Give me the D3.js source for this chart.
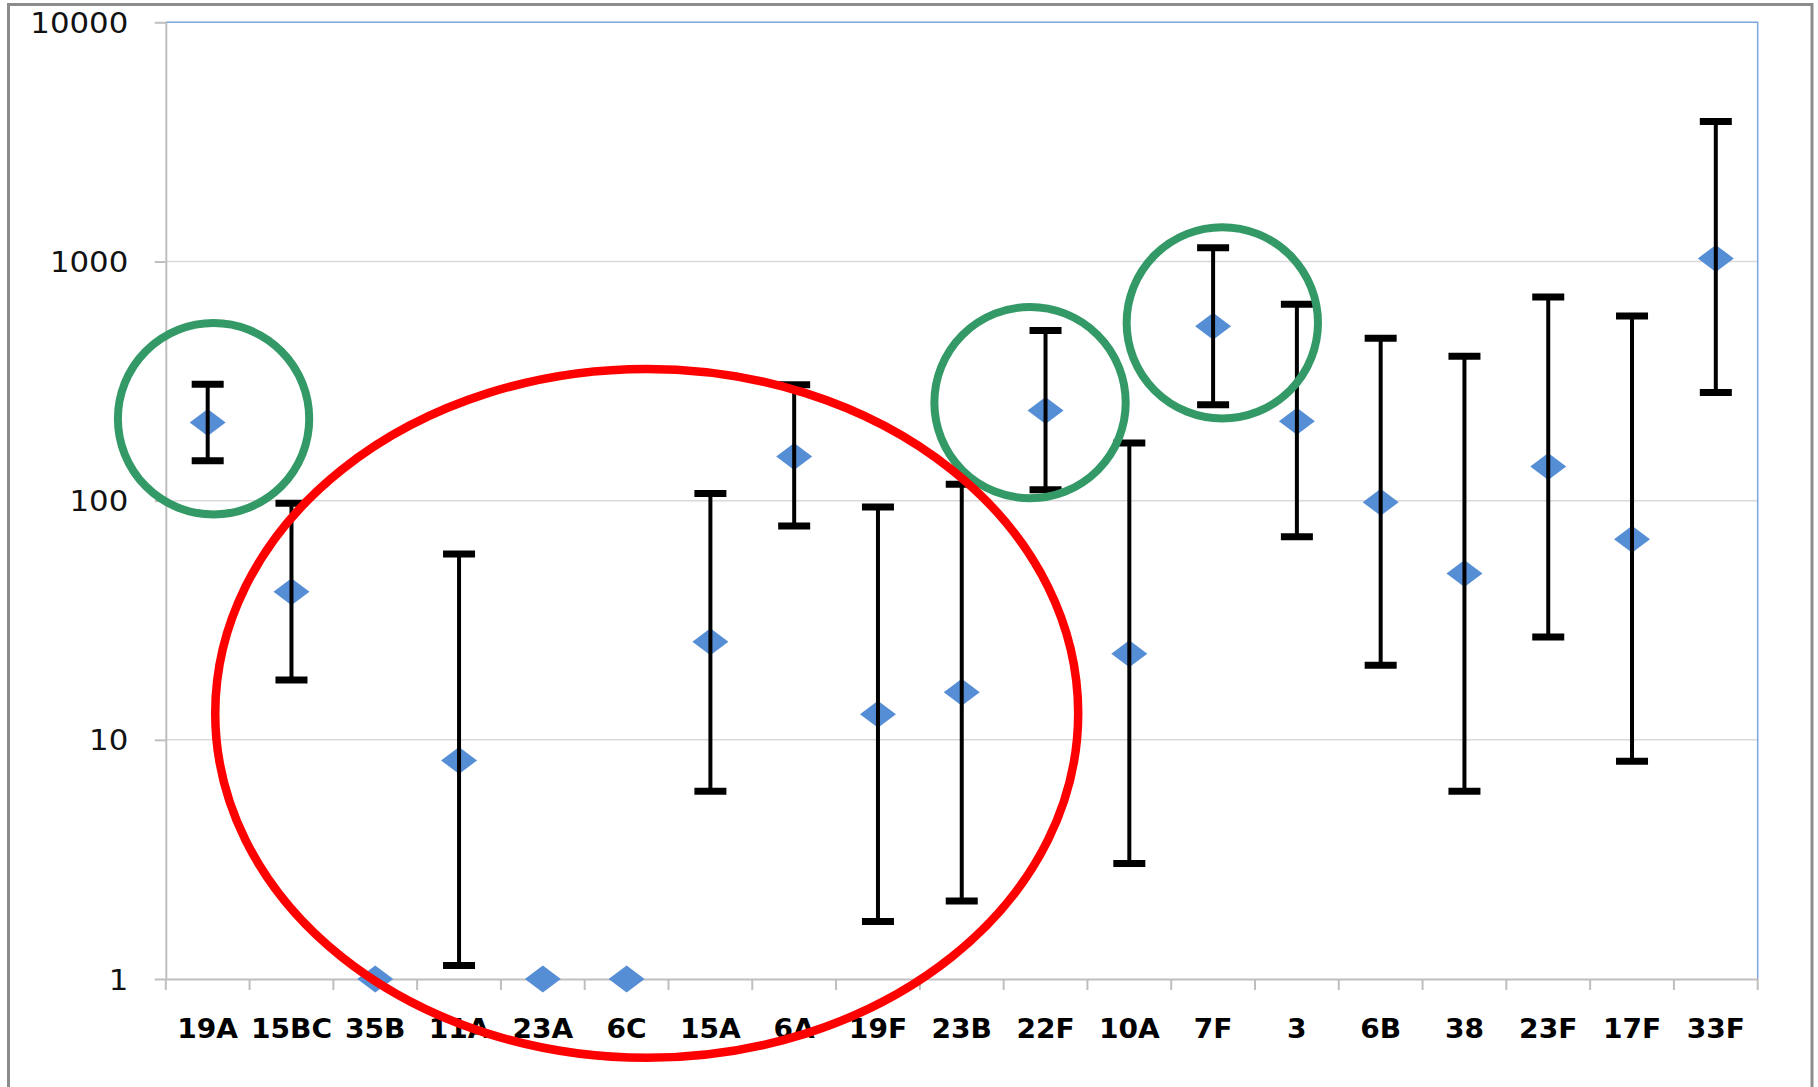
<!DOCTYPE html>
<html>
<head>
<meta charset="utf-8">
<script src="https://cdn.jsdelivr.net/npm/d3@7"></script>
<style>
  body { margin: 0; background: #fff; }
  svg { display: block; }
</style>
</head>
<body>
<svg id="chart" width="1818" height="1087"></svg>
<script>
// Serotypes along the category axis
const categories = ["19A", "15BC", "35B", "11A", "23A", "6C", "15A", "6A", "19F", "23B",
                    "22F", "10A", "7F", "3", "6B", "38", "23F", "17F", "33F"];
// Point estimate per serotype
const pointValues = [212, 41.6, 1, 8.2, 1, 1, 25.7, 153, 12.8, 15.8,
                     238, 22.9, 536, 215, 98.5, 49.6, 139, 68.9, 1030];
// Upper and lower ends of each interval (null = no interval drawn)
const upperValues = [307, 97.5, null, 59.8, null, null, 107, 305, 94, 117,
                     515, 174, 1140, 663, 478, 402, 711, 592, 3850];
const lowerValues = [147, 17.8, null, 1.14, null, null, 6.1, 78.3, 1.74, 2.12,
                     111, 3.04, 252, 70.7, 20.5, 6.1, 26.9, 8.14, 283];
// Log axis ticks
const yTickValues = [1, 10, 100, 1000, 10000];

const svg = d3.select("#chart");
const plot = { left: 165.8, top: 22.3, right: 1757.7, bottom: 979 };

const x = d3.scaleBand().domain(categories).range([plot.left, plot.right]).padding(0);
const y = d3.scaleLog().domain([1, 10000]).range([plot.bottom, plot.top]);
const bw = x.bandwidth();
const cx = c => x(c) + bw / 2;
const decade = y(1) - y(10);

svg.append("rect").attr("width", 1818).attr("height", 1087).attr("fill", "#fff");

// outer chart frame
svg.append("rect")
  .attr("x", 8.5).attr("y", 4.5)
  .attr("width", 1803.5).attr("height", 1200)
  .attr("fill", "none").attr("stroke", "#8c8c8c").attr("stroke-width", 3);

// horizontal gridlines
svg.append("g").selectAll("line")
  .data(yTickValues.filter(v => v > 1 && v < 10000))
  .join("line")
  .attr("x1", plot.left).attr("x2", plot.right)
  .attr("y1", d => y(d)).attr("y2", d => y(d))
  .attr("stroke", "#d9d9d9").attr("stroke-width", 1.5);

// plot area top and right edges
svg.append("path")
  .attr("d", `M${plot.left},${y(10000)}H${plot.right}V${y(1)}`)
  .attr("fill", "none").attr("stroke", "#7fa6dc").attr("stroke-width", 1.5);

// y axis
const yAxis = svg.append("g")
  .attr("transform", `translate(${plot.left},0)`)
  .call(d3.axisLeft(y).tickValues(yTickValues).tickFormat(d3.format("d"))
    .tickSize(11).tickSizeOuter(0));
yAxis.select(".domain").attr("stroke", "#bfbfbf").attr("stroke-width", 2);
yAxis.selectAll(".tick line").attr("stroke", "#bfbfbf").attr("stroke-width", 2);
const yStretch = 1.1;
yAxis.selectAll(".tick text")
  .attr("x", -37.5 / yStretch)
  .attr("dy", "0.36em")
  .attr("transform", `scale(${yStretch},1)`)
  .attr("fill", "#111")
  .style("font-family", "'DejaVu Sans', sans-serif")
  .style("font-size", "28px");

// x axis
const xAxis = svg.append("g")
  .attr("transform", `translate(0,${plot.bottom})`)
  .call(d3.axisBottom(x).tickSize(0).tickSizeOuter(0));
xAxis.select(".domain").attr("stroke", "#bfbfbf").attr("stroke-width", 2);
const xStretch = 1.06;
xAxis.selectAll(".tick text")
  .attr("y", 59).attr("dy", "0")
  .attr("transform", `scale(${xStretch},1)`)
  .attr("fill", "#000")
  .style("font-family", "'DejaVu Sans', sans-serif")
  .style("font-weight", "bold")
  .style("font-size", "26.5px");

// category boundary tick marks
xAxis.append("g").selectAll("line")
  .data(categories.map(c => x(c)).concat([plot.right]))
  .join("line")
  .attr("x1", d => d).attr("x2", d => d)
  .attr("y1", 0).attr("y2", 11)
  .attr("stroke", "#bfbfbf").attr("stroke-width", 2);

const rows = categories.map((c, i) => ({
  cat: c, v: pointValues[i], hi: upperValues[i], lo: lowerValues[i]
}));

// diamond markers
const mw = 18, mh = 13.5;
svg.append("g").selectAll("path")
  .data(rows)
  .join("path")
  .attr("d", d => {
    const px = cx(d.cat), py = y(d.v);
    return `M${px - mw},${py}L${px},${py - mh}L${px + mw},${py}L${px},${py + mh}Z`;
  })
  .attr("fill", "#568ed6");

// interval bars
const bars = svg.append("g").selectAll("g")
  .data(rows.filter(d => d.hi != null))
  .join("g");
bars.append("line")
  .attr("x1", d => cx(d.cat)).attr("x2", d => cx(d.cat))
  .attr("y1", d => y(d.hi)).attr("y2", d => y(d.lo))
  .attr("stroke", "#000").attr("stroke-width", 4);
["hi", "lo"].forEach(k => {
  bars.append("line")
    .attr("x1", d => cx(d.cat) - 16).attr("x2", d => cx(d.cat) + 16)
    .attr("y1", d => y(d[k])).attr("y2", d => y(d[k]))
    .attr("stroke", "#000").attr("stroke-width", 7);
});

// highlight rings
const rings = [
  { cat: "19A", shift: 0.07, value: 220 },
  { cat: "22F", shift: -0.185, value: 257 },
  { cat: "7F", shift: 0.11, value: 554 }
];
svg.append("g").selectAll("circle")
  .data(rings)
  .join("circle")
  .attr("cx", d => cx(d.cat) + d.shift * bw)
  .attr("cy", d => y(d.value))
  .attr("r", 0.4 * decade)
  .attr("fill", "none").attr("stroke", "#339966").attr("stroke-width", 8);

// group outline
svg.append("ellipse")
  .attr("cx", x("6C") + 0.74 * bw)
  .attr("cy", y(12.9))
  .attr("rx", 5.15 * bw)
  .attr("ry", 1.44 * decade)
  .attr("fill", "none").attr("stroke", "#ff0000").attr("stroke-width", 8.5);
</script>
</body>
</html>
